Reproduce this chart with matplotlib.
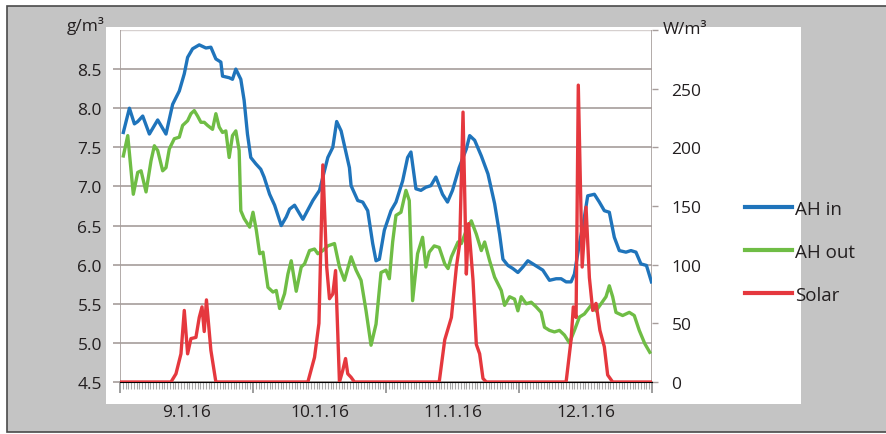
import numpy as np
import matplotlib
matplotlib.use("Agg")
import matplotlib.pyplot as plt
from matplotlib.patches import Rectangle
from matplotlib.lines import Line2D

plt.rcParams['font.family'] = ['Open Sans', 'DejaVu Sans']

# time in hours from 9.1.16 00:00
t_in = [0.6, 1.7, 2.6, 3.2, 4.1, 5.3, 6.8, 8.3, 9.5, 10.7, 11.6, 12.2, 13.1, 14.3, 15.5,
        16.4, 17.3, 18.2, 18.5, 19.7, 20.3, 20.9, 21.8, 22.4, 23.0, 23.6, 24.5, 25.4, 26.0,
        27.0, 27.9, 29.1, 30.0, 30.6, 31.5, 33.0, 34.8, 36.0, 37.5, 38.4, 39.1, 39.9, 41.4,
        41.7, 42.9, 43.8, 44.7, 45.6, 46.2, 46.8, 47.7, 48.9, 49.8, 51.0, 51.9, 52.5, 53.4,
        54.3, 55.2, 56.1, 57.0, 58.2, 59.1, 60.0, 61.2, 62.5, 63.1, 64.0, 65.2, 66.4, 67.6,
        68.5, 69.1, 70.0, 70.9, 71.8, 72.7, 73.6, 74.5, 75.4, 76.3, 77.5, 78.7, 79.6, 80.5,
        81.4, 82.0, 82.9, 83.8, 84.4, 85.6, 86.5, 87.4, 88.3, 89.2, 90.1, 91.3, 92.2, 93.1,
        94.0, 95.0, 95.9]
ah_in = [7.69, 8.00, 7.80, 7.83, 7.90, 7.67, 7.85, 7.67, 8.05, 8.22, 8.44, 8.65, 8.76, 8.81, 8.77,
         8.78, 8.63, 8.59, 8.41, 8.39, 8.37, 8.50, 8.37, 8.10, 7.67, 7.37, 7.29, 7.22, 7.12,
         6.90, 6.76, 6.50, 6.61, 6.71, 6.76, 6.58, 6.82, 6.95, 7.37, 7.50, 7.83, 7.71, 7.24,
         7.01, 6.82, 6.80, 6.69, 6.27, 6.05, 6.07, 6.44, 6.69, 6.80, 7.07, 7.37, 7.44, 6.97,
         6.95, 6.99, 7.01, 7.12, 6.90, 6.80, 6.95, 7.24, 7.48, 7.65, 7.59, 7.39, 7.16, 6.78,
         6.39, 6.07, 5.99, 5.95, 5.90, 5.97, 6.05, 6.01, 5.97, 5.93, 5.80, 5.82, 5.82, 5.78,
         5.78, 5.88, 6.27, 6.61, 6.88, 6.90, 6.80, 6.69, 6.67, 6.35, 6.18, 6.16, 6.18, 6.16,
         6.01, 5.99, 5.78]

t_out = [0.6, 1.4, 2.0, 2.4, 3.2, 3.8, 4.7, 5.6, 6.2, 6.8, 7.7, 8.3, 8.9, 9.8, 10.7, 11.3,
         12.2, 12.8, 13.4, 14.0, 14.6, 15.2, 15.8, 16.7, 17.3, 17.9, 18.5, 19.1, 19.7, 20.3,
         20.9, 21.5, 21.8, 22.4, 23.4, 24.0, 24.6, 25.2, 25.8, 26.7, 27.6, 28.2, 28.8, 29.7,
         30.3, 30.9, 31.8, 32.7, 33.3, 34.2, 35.1, 35.7, 36.6, 37.5, 38.7, 39.6, 40.5, 41.7,
         42.6, 43.5, 44.4, 45.3, 46.2, 47.1, 48.0, 48.6, 49.2, 49.8, 50.7, 51.6, 52.2, 52.8,
         53.7, 54.6, 55.2, 55.8, 56.7, 57.6, 58.6, 59.2, 59.8, 61.0, 61.6, 62.5, 63.4, 64.3,
         65.2, 65.8, 66.7, 67.6, 68.8, 69.4, 70.3, 71.2, 71.8, 72.4, 73.3, 74.2, 75.1, 76.0,
         76.6, 77.5, 78.4, 79.3, 80.2, 81.1, 82.0, 82.9, 83.8, 85.0, 85.9, 86.8, 87.7, 88.3,
         88.9, 89.5, 90.7, 91.9, 92.8, 93.7, 94.7, 95.6]
ah_out = [7.39, 7.65, 7.20, 6.90, 7.18, 7.20, 6.93, 7.33, 7.52, 7.46, 7.20, 7.24, 7.48, 7.61,
          7.63, 7.78, 7.84, 7.93, 7.97, 7.90, 7.82, 7.82, 7.78, 7.73, 7.93, 7.76, 7.69, 7.71,
          7.37, 7.65, 7.71, 7.46, 6.69, 6.59, 6.48, 6.67, 6.44, 6.14, 6.16, 5.71, 5.65, 5.67,
          5.44, 5.63, 5.88, 6.05, 5.66, 5.97, 6.01, 6.18, 6.20, 6.14, 6.18, 6.24, 6.27, 5.97,
          5.80, 6.10, 5.93, 5.80, 5.41, 4.97, 5.24, 5.90, 5.93, 5.82, 6.29, 6.63, 6.67, 6.95,
          6.82, 5.54, 6.14, 6.35, 5.97, 6.16, 6.24, 6.22, 6.01, 5.95, 6.10, 6.29, 6.27, 6.44,
          6.56, 6.39, 6.18, 6.29, 6.05, 5.84, 5.67, 5.48, 5.59, 5.56, 5.41, 5.59, 5.50, 5.52,
          5.46, 5.39, 5.20, 5.16, 5.14, 5.16, 5.10, 5.00, 5.16, 5.33, 5.37, 5.48, 5.41, 5.50,
          5.59, 5.73, 5.59, 5.39, 5.35, 5.39, 5.35, 5.16, 4.99, 4.88]

t_solar = [0.0, 9.2, 10.1, 11.0, 11.6, 12.2, 12.8, 13.7, 14.3, 14.8, 15.2, 15.6, 16.4, 17.3,
           33.9, 35.1, 35.9, 36.6, 37.3, 37.8, 38.4, 38.9, 39.3, 39.6, 40.2, 40.7, 41.1, 41.7,
           42.3, 57.6, 58.6, 59.8, 60.7, 61.3, 61.9, 62.5, 62.9, 63.7, 64.3, 64.9, 65.5, 66.1,
           80.5, 81.4, 81.8, 82.3, 82.7, 83.4, 84.1, 84.7, 85.3, 85.9, 86.6, 87.4, 88.0, 88.9,
           95.9]
solar = [0, 0, 7, 24, 61, 24, 37, 38, 55, 64, 43, 70, 27, 0,
         0, 21, 50, 185, 98, 71, 75, 95, 41, 0, 10, 20, 7, 4,
         0, 0, 36, 55, 98, 118, 230, 92, 135, 87, 32, 24, 3, 0,
         0, 36, 64, 55, 253, 98, 149, 89, 61, 67, 44, 30, 6, 0,
         0]

day_labels = ['9.1.16', '10.1.16', '11.1.16', '12.1.16']
left_ticks = [4.5, 5.0, 5.5, 6.0, 6.5, 7.0, 7.5, 8.0, 8.5]
right_ticks = [0, 50, 100, 150, 200, 250]

c_in = '#1f74bb'
c_out = '#6fbd45'
c_sol = '#e5383e'
c_grid = '#a69d9b'
c_txt = '#231f20'

W, H = 886, 435
fig = plt.figure(figsize=(W / 100, H / 100), dpi=100)
fig.patch.set_facecolor('white')

# grey frame and white chart panel
fig.add_artist(Rectangle((7 / W, 2 / H), 1.0, 1 - 9 / H, transform=fig.transFigure,
                         facecolor='#c4c4c4', edgecolor='#4a4a4a', lw=1.2, zorder=0))
fig.add_artist(Rectangle((106 / W, 1 - 405 / H), (801 - 106) / W, (405 - 28) / H,
                         transform=fig.transFigure, facecolor='white', edgecolor='none', zorder=0))

ax = fig.add_axes([120 / W, 1 - 383 / H, (652 - 120) / W, (383 - 31) / H])
ax.patch.set_alpha(0)
ax2 = ax.twinx()

ax.plot(t_in, ah_in, color=c_in, lw=2.4, solid_joinstyle='round', zorder=3)
ax.plot(t_out, ah_out, color=c_out, lw=2.4, solid_joinstyle='round', zorder=3)
ax2.plot(t_solar, solar, color=c_sol, lw=2.4, solid_joinstyle='round', zorder=3)

ax.set_xlim(0, 96)
ax.set_ylim(4.5, 9.0)
ax2.set_ylim(0, 300)

# horizontal grid lines
for v in left_ticks:
    ax.axhline(v, color=c_grid, lw=1.2, zorder=1)
ax.axhline(9.0, color='#d6d0cf', lw=1.0, zorder=1)

ax.set_yticks(left_ticks, [f'{v:.1f}' for v in left_ticks])
ax.tick_params(axis='y', length=5, width=1.2, color=c_grid, pad=8,
               labelsize=12.5, labelcolor=c_txt)
ax2.set_yticks(right_ticks + [300], [str(v) for v in right_ticks] + [''])
ax2.tick_params(axis='y', length=4, width=1, color=c_grid, pad=10,
                labelsize=12.5, labelcolor=c_txt)

# x axis: day boundaries as major ticks, half hours as minor ticks
ax.set_xticks([0, 24, 48, 72, 96], [''] * 5)
ax.set_xticks(np.arange(0, 96.1, 0.5), minor=True)
ax.tick_params(axis='x', which='major', length=8, width=1.2, color='#8c8c8c')
ax.tick_params(axis='x', which='minor', length=5, width=0.8, color='#a8a8a8')
sec = ax.secondary_xaxis('bottom')
sec.set_xticks([12, 36, 60, 84], day_labels)
sec.tick_params(length=0, pad=16, labelsize=12.5, labelcolor=c_txt)
sec.spines['bottom'].set_visible(False)

for a in (ax, ax2):
    a.spines['top'].set_visible(False)
    a.spines['right'].set_visible(False)
    a.spines['left'].set_visible(False)
ax.spines['bottom'].set_color(c_grid)
ax.spines['bottom'].set_linewidth(1.2)
ax.axvline(0, color=c_grid, lw=1.2, zorder=1)
ax.axvline(96, color=c_grid, lw=1.2, zorder=1)

# unit labels
fig.text(105 / W, 1 - 26 / H, 'g/m³', ha='right', va='center', fontsize=12.5, color=c_txt)
fig.text(663 / W, 1 - 30 / H, 'W/m³', ha='left', va='center', fontsize=12.5, color=c_txt)

handles = [Line2D([], [], color=c_in, lw=3), Line2D([], [], color=c_out, lw=3),
           Line2D([], [], color=c_sol, lw=3)]
fig.legend(handles, ['AH in', 'AH out', 'Solar'], loc='upper left',
           bbox_to_anchor=(728 / W, 1 - 184 / H), frameon=False, fontsize=13.5,
           handlelength=2.5, handletextpad=0.15, labelspacing=1.33, labelcolor=c_txt)

fig.savefig('out.png', dpi=100, facecolor='white')
